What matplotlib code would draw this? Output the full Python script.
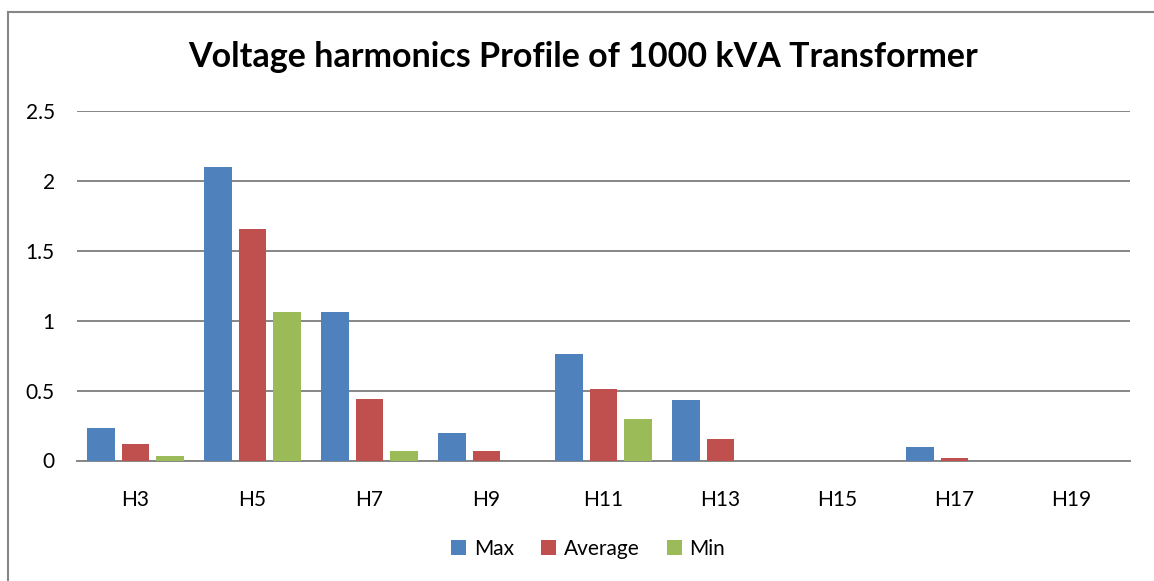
import numpy as np
import matplotlib.pyplot as plt
from matplotlib.lines import Line2D

categories = ['H3', 'H5', 'H7', 'H9', 'H11', 'H13', 'H15', 'H17', 'H19']
max_vals = [0.23, 2.1, 1.065, 0.2, 0.765, 0.435, 0, 0.1, 0]
avg_vals = [0.115, 1.655, 0.44, 0.065, 0.51, 0.155, 0, 0.015, 0]
min_vals = [0.03, 1.065, 0.065, 0, 0.295, 0, 0, 0, 0]

plt.rcParams['font.family'] = ['Lato', 'DejaVu Sans']

fig = plt.figure(figsize=(11.54, 5.81), dpi=100)
W, H = 1154, 581
ax = fig.add_axes([77 / W, 1 - 460.5 / H, (1130 - 77) / W, (460.5 - 111) / H])

x = np.arange(len(categories))
w = 0.237
off = 0.294
colors = ['#4F81BD', '#C0504D', '#9BBB59']
for vals, dx, c, lab in zip([max_vals, avg_vals, min_vals], [-off, 0, off], colors,
                            ['Max', 'Average', 'Min']):
    ax.bar(x + dx, vals, width=w, color=c, label=lab, zorder=3)

ax.set_xlim(-0.5, len(categories) - 0.5)
ax.set_ylim(0, 2.5)
ax.set_yticks([0, 0.5, 1, 1.5, 2, 2.5])
ax.set_yticklabels(['0', '0.5', '1', '1.5', '2', '2.5'])
ax.set_xticks(x)
ax.set_xticklabels(categories)
ax.tick_params(axis='both', length=0, labelsize=15, colors='#000000')
ax.tick_params(axis='y', pad=16)
ax.tick_params(axis='x', pad=21)
ax.grid(axis='y', color='#868686', linewidth=1.4, zorder=0)
for s in ['left', 'right', 'top']:
    ax.spines[s].set_visible(False)
ax.spines['bottom'].set_color('#868686')
ax.spines['bottom'].set_linewidth(1.4)

fig.text(583 / W, 1 - 57 / H, 'Voltage harmonics Profile of 1000 kVA Transformer',
         ha='center', va='center', fontsize=24.5, fontweight='bold')

fig.legend(loc='center', bbox_to_anchor=(588 / W, 1 - 549 / H), ncol=3, frameon=False,
           fontsize=15, handlelength=0.75, handleheight=0.75, handletextpad=0.35,
           columnspacing=1.3)

# outer chart border
bc = '#868686'
fig.add_artist(Line2D([8 / W, 8 / W], [0, 1 - 12 / H], transform=fig.transFigure, color=bc, lw=1.5))
fig.add_artist(Line2D([8 / W, 1], [1 - 12 / H, 1 - 12 / H], transform=fig.transFigure, color=bc, lw=1.5))

fig.savefig('out.png', dpi=100)
